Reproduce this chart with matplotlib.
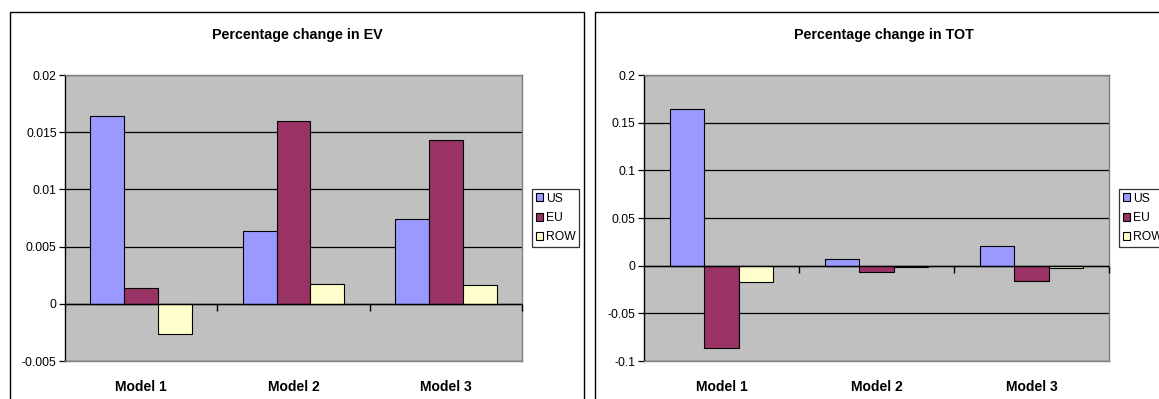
"""Two Excel-style grouped bar charts: percentage change in EV and in TOT per model."""

from __future__ import annotations

import matplotlib

matplotlib.use("Agg")

import matplotlib.pyplot as plt
import numpy as np
from matplotlib.axes import Axes
from matplotlib.figure import Figure
from matplotlib.patches import Rectangle
from matplotlib.ticker import FuncFormatter, MultipleLocator

MODELS: list[str] = ["Model 1", "Model 2", "Model 3"]
REGIONS: list[str] = ["US", "EU", "ROW"]

EV_US: list[float] = [0.0164, 0.0064, 0.0074]
EV_EU: list[float] = [0.0014, 0.0160, 0.0143]
EV_ROW: list[float] = [-0.0026, 0.0017, 0.0016]

TOT_US: list[float] = [0.164, 0.0066, 0.021]
TOT_EU: list[float] = [-0.086, -0.0069, -0.016]
TOT_ROW: list[float] = [-0.0167, -0.0010, -0.0020]

W_PX: int = 1159
H_PX: int = 399
DPI: int = 100
FONT: str = "Liberation Sans"
PLOT_BG: str = "#C0C0C0"
REGION_COLOURS: list[str] = ["#9999FF", "#993366", "#FFFFCC"]
GAP_WIDTH: float = 1.5  # Excel gap width 150 %


def _fx(px: float) -> float:
    return px / W_PX


def _fy(px_from_top: float) -> float:
    return 1.0 - px_from_top / H_PX


def _draw_chart(
    *,
    fig: Figure,
    rect_px: tuple[float, float, float, float],
    series: list[list[float]],
    ylim: tuple[float, float],
    ystep: float,
    title: str,
    title_x_px: float,
    legend_xy_px: tuple[float, float],
) -> Axes:
    x0, y_top, x1, y_bot = rect_px
    ax: Axes = fig.add_axes((_fx(x0), _fy(y_bot), _fx(x1 - x0), (y_bot - y_top) / H_PX))
    ax.set_facecolor(PLOT_BG)

    idx = np.arange(len(MODELS))
    n: int = len(series)
    bar_w: float = 1.0 / (n + GAP_WIDTH)
    handles = []
    for k, (vals, colour, name) in enumerate(zip(series, REGION_COLOURS, REGIONS)):
        offs: float = (k - (n - 1) / 2) * bar_w
        bars = ax.bar(
            idx + offs,
            vals,
            width=bar_w,
            color=colour,
            edgecolor="black",
            linewidth=0.8,
            label=name,
            zorder=3,
        )
        handles.append(bars)

    ax.set_xlim(-0.5, len(MODELS) - 0.5)
    ax.set_ylim(*ylim)
    ax.yaxis.set_major_locator(MultipleLocator(ystep))
    ax.yaxis.set_major_formatter(FuncFormatter(lambda v, _p: f"{round(v, 6):g}"))
    ax.grid(axis="y", color="black", linewidth=0.9, zorder=1)
    ax.set_axisbelow(True)

    # Category axis sits at zero, with tick marks between the categories.
    ax.axhline(0.0, color="black", linewidth=1.0, zorder=4)
    bounds = np.arange(len(MODELS) + 1) - 0.5
    ax.plot(
        bounds[1:],
        np.zeros(len(bounds) - 1),
        linestyle="none",
        marker=3,
        markersize=5,
        markeredgewidth=1.0,
        color="black",
        zorder=4,
        clip_on=False,
    )

    ax.set_xticks(idx)
    ax.set_xticklabels(MODELS, fontsize=10, fontweight="bold", family=FONT)
    ax.tick_params(axis="x", length=0, pad=14)
    ax.tick_params(axis="y", length=4, width=0.9, pad=2, labelsize=8.8, direction="out")
    for lbl in ax.get_yticklabels():
        lbl.set_family(FONT)

    for side in ("top", "right", "bottom"):
        ax.spines[side].set_color("#808080")
        ax.spines[side].set_linewidth(1.0)
    ax.spines["left"].set_color("black")
    ax.spines["left"].set_linewidth(1.0)

    fig.text(
        _fx(title_x_px),
        _fy(35.5),
        title,
        ha="center",
        va="center",
        fontsize=10.3,
        fontweight="bold",
        family=FONT,
    )

    leg = fig.legend(
        handles=handles,
        labels=REGIONS,
        loc="upper left",
        bbox_to_anchor=(_fx(legend_xy_px[0]), _fy(legend_xy_px[1])),
        bbox_transform=fig.transFigure,
        frameon=True,
        fancybox=False,
        borderaxespad=0.0,
        borderpad=0.3,
        handlelength=0.65,
        handleheight=0.65,
        handletextpad=0.2,
        labelspacing=0.6,
        prop={"family": FONT, "size": 8.7},
    )
    leg.get_frame().set_edgecolor("black")
    leg.get_frame().set_linewidth(0.9)
    return ax


def main() -> None:
    fig: Figure = plt.figure(figsize=(W_PX / DPI, H_PX / DPI), dpi=DPI)
    fig.patch.set_facecolor("white")

    # Chart-area borders (both run off the bottom, the right one off the right edge).
    fig.add_artist(
        Rectangle(
            (_fx(10), -0.05),
            _fx(584 - 10),
            _fy(12) + 0.05,
            transform=fig.transFigure,
            fill=False,
            edgecolor="black",
            linewidth=1.0,
        )
    )
    fig.add_artist(
        Rectangle(
            (_fx(595), -0.05),
            _fx(1200 - 595),
            _fy(12) + 0.05,
            transform=fig.transFigure,
            fill=False,
            edgecolor="black",
            linewidth=1.0,
        )
    )

    _draw_chart(
        fig=fig,
        rect_px=(65, 75, 522, 361),
        series=[EV_US, EV_EU, EV_ROW],
        ylim=(-0.005, 0.02),
        ystep=0.005,
        title="Percentage change in EV",
        title_x_px=297,
        legend_xy_px=(532, 189),
    )
    _draw_chart(
        fig=fig,
        rect_px=(644, 75, 1109, 361),
        series=[TOT_US, TOT_EU, TOT_ROW],
        ylim=(-0.1, 0.2),
        ystep=0.05,
        title="Percentage change in TOT",
        title_x_px=884,
        legend_xy_px=(1119, 189),
    )

    fig.savefig("out.png", dpi=DPI)
    plt.close(fig=fig)


if __name__ == "__main__":
    main()
